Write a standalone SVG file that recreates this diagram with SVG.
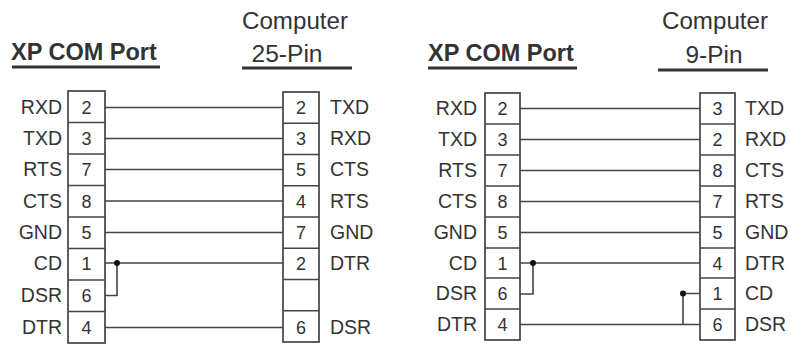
<svg xmlns="http://www.w3.org/2000/svg" width="791" height="347" viewBox="0 0 791 347">
<style>
.bg{fill:#fff}
.box{fill:#fff;stroke:#444;stroke-width:1.7}
.div{stroke:#444;stroke-width:1.5}
.wire{fill:none;stroke:#444;stroke-width:1.6}
.lbl{font-family:"Liberation Sans",Arial,sans-serif;font-size:19.5px;fill:#333}
.pin{font-family:"Liberation Sans",Arial,sans-serif;font-size:18px;fill:#333;text-anchor:middle}
.end{text-anchor:end}
.hdr{font-family:"Liberation Sans",Arial,sans-serif;font-size:23.5px;font-weight:bold;fill:#333}
.sub{font-family:"Liberation Sans",Arial,sans-serif;font-size:23px;fill:#333;text-anchor:middle}
.ul{stroke:#333;stroke-width:3}
.dot{fill:#111}
</style>
<rect class="bg" x="0" y="0" width="791" height="347"/>

<g id="headers">
  <text class="hdr" x="11" y="60">XP COM Port</text>
  <line class="ul" x1="12" y1="67" x2="160" y2="67"/>
  <text class="sub" x="295" y="29" textLength="106" lengthAdjust="spacingAndGlyphs">Computer</text>
  <text class="sub" x="287" y="62" textLength="71" lengthAdjust="spacingAndGlyphs">25-Pin</text>
  <line class="ul" x1="242" y1="68" x2="352" y2="68"/>
  <text class="hdr" x="428" y="61">XP COM Port</text>
  <line class="ul" x1="428" y1="68" x2="577" y2="68"/>
  <text class="sub" x="715" y="29" textLength="106" lengthAdjust="spacingAndGlyphs">Computer</text>
  <text class="sub" x="714" y="63" textLength="57" lengthAdjust="spacingAndGlyphs">9-Pin</text>
  <line class="ul" x1="658" y1="70" x2="768" y2="70"/>
</g>

<g id="xp-port-1">
  <rect class="box" x="68" y="91" width="37" height="252"/>
  <line class="div" x1="68" y1="122.5" x2="105" y2="122.5"/>
  <line class="div" x1="68" y1="154" x2="105" y2="154"/>
  <line class="div" x1="68" y1="185.5" x2="105" y2="185.5"/>
  <line class="div" x1="68" y1="217" x2="105" y2="217"/>
  <line class="div" x1="68" y1="248.5" x2="105" y2="248.5"/>
  <line class="div" x1="68" y1="280" x2="105" y2="280"/>
  <line class="div" x1="68" y1="311.5" x2="105" y2="311.5"/>
  <text class="pin" x="86.5" y="114">2</text>
  <text class="pin" x="86.5" y="145">3</text>
  <text class="pin" x="86.5" y="176">7</text>
  <text class="pin" x="86.5" y="208">8</text>
  <text class="pin" x="86.5" y="239">5</text>
  <text class="pin" x="86.5" y="270">1</text>
  <text class="pin" x="86.5" y="302">6</text>
  <text class="pin" x="86.5" y="334">4</text>
  <text class="lbl end" x="62" y="114">RXD</text>
  <text class="lbl end" x="62" y="145">TXD</text>
  <text class="lbl end" x="62" y="176">RTS</text>
  <text class="lbl end" x="62" y="208">CTS</text>
  <text class="lbl end" x="62" y="239">GND</text>
  <text class="lbl end" x="62" y="270">CD</text>
  <text class="lbl end" x="62" y="302">DSR</text>
  <text class="lbl end" x="62" y="334">DTR</text>
</g>

<g id="computer-25pin">
  <rect class="box" x="283" y="92" width="36" height="250"/>
  <line class="div" x1="283" y1="123.25" x2="319" y2="123.25"/>
  <line class="div" x1="283" y1="154.5" x2="319" y2="154.5"/>
  <line class="div" x1="283" y1="185.75" x2="319" y2="185.75"/>
  <line class="div" x1="283" y1="217" x2="319" y2="217"/>
  <line class="div" x1="283" y1="248.25" x2="319" y2="248.25"/>
  <line class="div" x1="283" y1="279.5" x2="319" y2="279.5"/>
  <line class="div" x1="283" y1="310.75" x2="319" y2="310.75"/>
  <text class="pin" x="301" y="114">2</text>
  <text class="pin" x="301" y="145">3</text>
  <text class="pin" x="301" y="176">5</text>
  <text class="pin" x="301" y="208">4</text>
  <text class="pin" x="301" y="239">7</text>
  <text class="pin" x="301" y="270">2</text>
  <text class="pin" x="301" y="334">6</text>
  <text class="lbl" x="330" y="114">TXD</text>
  <text class="lbl" x="330" y="145">RXD</text>
  <text class="lbl" x="330" y="176">CTS</text>
  <text class="lbl" x="330" y="208">RTS</text>
  <text class="lbl" x="330" y="239">GND</text>
  <text class="lbl" x="330" y="270">DTR</text>
  <text class="lbl" x="330" y="334">DSR</text>
</g>

<g id="xp-port-2">
  <rect class="box" x="485" y="93" width="35" height="247"/>
  <line class="div" x1="485" y1="124" x2="520" y2="124"/>
  <line class="div" x1="485" y1="155" x2="520" y2="155"/>
  <line class="div" x1="485" y1="186" x2="520" y2="186"/>
  <line class="div" x1="485" y1="217" x2="520" y2="217"/>
  <line class="div" x1="485" y1="248" x2="520" y2="248"/>
  <line class="div" x1="485" y1="278" x2="520" y2="278"/>
  <line class="div" x1="485" y1="309" x2="520" y2="309"/>
  <text class="pin" x="502.5" y="115">2</text>
  <text class="pin" x="502.5" y="146">3</text>
  <text class="pin" x="502.5" y="177">7</text>
  <text class="pin" x="502.5" y="208">8</text>
  <text class="pin" x="502.5" y="239">5</text>
  <text class="pin" x="502.5" y="270">1</text>
  <text class="pin" x="502.5" y="300">6</text>
  <text class="pin" x="502.5" y="331">4</text>
  <text class="lbl end" x="477" y="115">RXD</text>
  <text class="lbl end" x="477" y="146">TXD</text>
  <text class="lbl end" x="477" y="177">RTS</text>
  <text class="lbl end" x="477" y="208">CTS</text>
  <text class="lbl end" x="477" y="239">GND</text>
  <text class="lbl end" x="477" y="270">CD</text>
  <text class="lbl end" x="477" y="300">DSR</text>
  <text class="lbl end" x="477" y="331">DTR</text>
</g>

<g id="computer-9pin">
  <rect class="box" x="700" y="93" width="35" height="247"/>
  <line class="div" x1="700" y1="124" x2="735" y2="124"/>
  <line class="div" x1="700" y1="155" x2="735" y2="155"/>
  <line class="div" x1="700" y1="186" x2="735" y2="186"/>
  <line class="div" x1="700" y1="217" x2="735" y2="217"/>
  <line class="div" x1="700" y1="248" x2="735" y2="248"/>
  <line class="div" x1="700" y1="278" x2="735" y2="278"/>
  <line class="div" x1="700" y1="309" x2="735" y2="309"/>
  <text class="pin" x="717.5" y="115">3</text>
  <text class="pin" x="717.5" y="146">2</text>
  <text class="pin" x="717.5" y="177">8</text>
  <text class="pin" x="717.5" y="208">7</text>
  <text class="pin" x="717.5" y="239">5</text>
  <text class="pin" x="717.5" y="270">4</text>
  <text class="pin" x="717.5" y="300">1</text>
  <text class="pin" x="717.5" y="331">6</text>
  <text class="lbl" x="745" y="115">TXD</text>
  <text class="lbl" x="745" y="146">RXD</text>
  <text class="lbl" x="745" y="177">CTS</text>
  <text class="lbl" x="745" y="208">RTS</text>
  <text class="lbl" x="745" y="239">GND</text>
  <text class="lbl" x="745" y="270">DTR</text>
  <text class="lbl" x="745" y="300">CD</text>
  <text class="lbl" x="745" y="331">DSR</text>
</g>

<g id="connectors">
  <line class="wire" x1="105" y1="107.5" x2="283" y2="107.5"/>
  <line class="wire" x1="105" y1="138.5" x2="283" y2="138.5"/>
  <line class="wire" x1="105" y1="169.5" x2="283" y2="169.5"/>
  <line class="wire" x1="105" y1="201" x2="283" y2="201"/>
  <line class="wire" x1="105" y1="232.5" x2="283" y2="232.5"/>
  <line class="wire" x1="105" y1="263" x2="283" y2="263"/>
  <polyline class="wire" points="105,295.5 117,295.5 117,263"/>
  <circle class="dot" cx="117" cy="263" r="3"/>
  <line class="wire" x1="105" y1="327.5" x2="283" y2="327.5"/>

  <line class="wire" x1="520" y1="108.5" x2="700" y2="108.5"/>
  <line class="wire" x1="520" y1="139.5" x2="700" y2="139.5"/>
  <line class="wire" x1="520" y1="170.5" x2="700" y2="170.5"/>
  <line class="wire" x1="520" y1="201.5" x2="700" y2="201.5"/>
  <line class="wire" x1="520" y1="232.5" x2="700" y2="232.5"/>
  <line class="wire" x1="520" y1="263" x2="700" y2="263"/>
  <polyline class="wire" points="520,294 533,294 533,263"/>
  <circle class="dot" cx="533" cy="263" r="3"/>
  <line class="wire" x1="520" y1="324.5" x2="700" y2="324.5"/>
  <polyline class="wire" points="700,293.5 683,293.5 683,324.5"/>
  <circle class="dot" cx="683" cy="293.5" r="3"/>
</g>
</svg>
